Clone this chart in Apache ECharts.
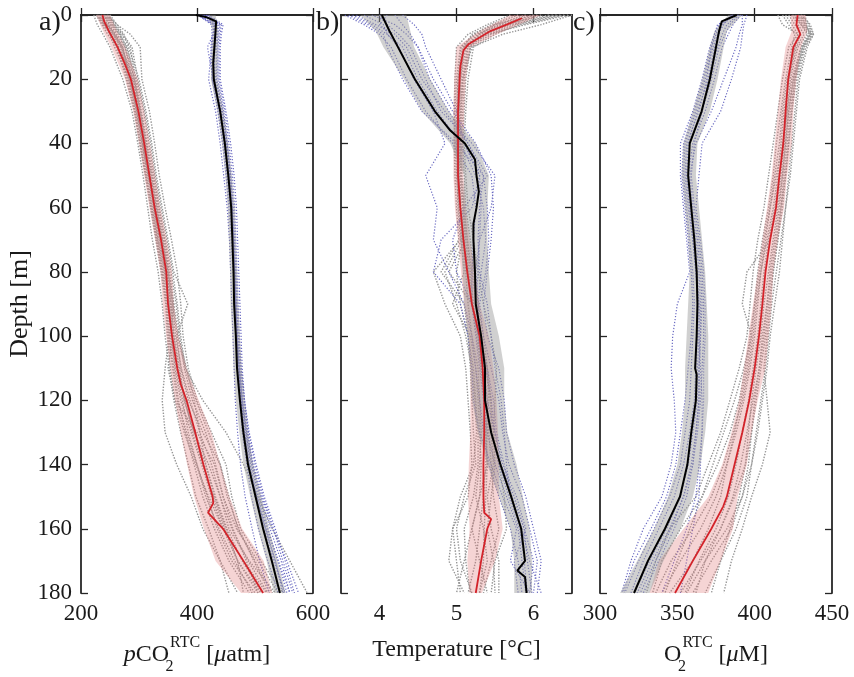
<!DOCTYPE html>
<html>
<head>
<meta charset="utf-8">
<script src="https://cdn.jsdelivr.net/npm/echarts@6/dist/echarts.min.js"></script>
<style>html,body{margin:0;padding:0;background:#fff}#c{width:854px;height:677px}</style>
</head>
<body>
<div id="c"></div>
<script>
// ---------------- depth grids ----------------
const depthProfile = [0,3,6,10,20,30,40,50,60,70,80,90,100,110,120,130,140,150,160,170,180];
const depthBand = [0,5,10,20,30,40,50,60,70,80,90,100,110,120,130,140,150,160,170,180];

// ---------------- panel a: pCO2 ----------------
const aRedDepth = [0,2,5,10,15,20,30,40,50,60,70,80,90,100,110,115,120,130,140,150,152,155,160,170,180];
const aRedMean  = [237,240,248,263,275,286,299,309,318,327,338,347,350,357,366,372,382,397,411,427,428,419,445,480,514];
const aBlkDepth = [0,0.6,2,5,10,15,20,30,40,50,60,70,80,90,100,110,120,130,140,150,160,170,180];
const aBlkMean  = [398,415,433,432,430,428,429,440,448,454,459,461,463,464,467,469,474,480,488,501,514,529,543];
const aPinkLo = [226,238,252,276,290,300,309,318,328,337,341,347,354,362,372,383,395,412,432,476];
const aPinkHi = [250,262,276,298,309,319,328,337,348,357,360,368,382,403,425,440,456,478,515,530];
const aGrayLo = [420,427,425,424,435,443,449,453,455,457,458,461,463,467,473,480,492,505,520,533];
const aGrayHi = [432,437,436,435,446,454,460,465,467,469,471,474,477,482,488,497,511,524,539,553];
const aGrayProf1  = [222,228,238,250,272,288,298,307,315,323,333,340,345,352,360,372,385,398,420,440,470];
const aGrayProf2  = [250,262,274,282,300,312,322,330,340,350,360,384,365,372,385,410,440,455,470,500,530];
const aGrayProf3  = [235,242,250,258,283,296,305,316,325,333,344,352,356,362,372,390,408,425,445,470,510];
const aGrayProf4  = [228,238,252,265,290,302,312,322,332,342,352,360,352,345,340,345,365,390,410,440,455];
const aGrayProf5  = [245,262,285,302,305,318,327,335,345,356,366,372,376,385,400,425,450,460,475,510,548];
const aGrayProf6  = [240,248,258,270,290,300,308,318,326,336,346,356,360,370,378,395,420,440,455,490,535];
const aGrayProf7  = [232,240,255,268,282,294,303,312,321,330,340,348,352,360,368,380,395,410,430,455,490];
const aGrayProf8  = [226,236,246,262,278,292,301,311,320,329,338,346,349,354,362,378,398,420,445,480,520];
const aGrayProf9  = [244,256,268,278,296,308,317,326,335,345,355,364,370,378,392,415,432,445,462,485,505];
const aGrayProf10 = [238,250,262,276,288,298,306,314,323,332,342,350,354,364,375,385,400,418,435,460,500];
const aGrayProf11 = [230,244,260,272,286,296,306,316,328,338,348,354,358,350,362,400,430,445,468,505,540];
const aGrayProf12 = [248,258,270,285,294,304,314,324,334,344,352,360,368,382,395,405,415,430,450,470,480];
const aGrayProf13 = [240,252,266,280,292,302,311,320,330,340,350,358,366,380,410,450,480,505,530,560,590];
const aGrayProf14 = [234,246,258,272,284,297,307,317,326,335,345,352,357,366,378,395,415,432,452,478,512];
const aGrayProf15 = [242,254,266,276,292,303,313,322,331,341,350,358,363,373,388,405,425,440,460,488,522];
const aGrayProf16 = [228,240,250,264,280,293,302,312,322,331,340,347,351,358,366,382,400,415,438,465,495];
const aGrayProf17 = [246,258,272,288,298,310,320,328,338,348,358,366,372,380,398,420,440,452,472,498,525];
const aGrayProf18 = [236,244,256,270,286,299,309,319,329,339,349,355,360,368,380,392,410,428,448,470,505];
const aBlueProf1  = [400,430,428,425,420,432,440,446,452,456,458,460,462,464,466,470,475,483,495,508,525];
const aBlueProf2  = [420,445,442,440,440,450,458,464,468,470,472,474,476,478,482,488,495,505,520,540,560];
const aBlueProf3  = [410,436,434,432,426,436,444,450,455,459,462,466,468,472,476,482,490,500,515,532,552];
const aBlueProf4  = [405,430,430,428,432,444,452,458,463,465,467,469,470,474,479,486,497,512,530,555,575];
const aBlueProf5  = [415,432,428,418,428,438,446,452,457,461,463,465,467,470,474,478,486,494,506,522,540];
const aBlueProf6  = [402,425,426,424,426,440,448,455,460,463,465,467,469,472,477,484,494,508,522,540,555];
const aBlueProf7  = [418,440,438,436,436,446,452,458,461,463,465,467,469,473,478,485,492,503,518,535,548];
const aBlueProf8  = [408,434,432,431,430,442,450,456,460,464,466,468,471,476,482,490,502,516,535,552,568];
const aBlueProf9  = [412,438,436,434,434,444,451,457,461,463,465,467,469,473,478,486,496,510,526,545,560];
const aBlueProf10 = [404,428,428,426,428,440,449,455,459,462,464,466,468,471,476,482,490,502,518,535,550];
const aBlueProf11 = [416,442,440,438,438,448,455,461,465,467,469,471,473,476,481,489,500,514,532,548,565];

// ---------------- panel b: temperature ----------------
const bRedDepth = [1,3,5,7,9,11,16,20,30,40,50,60,70,80,90,100,110,120,130,140,150,155,157,160,170,180];
const bRedMean  = [5.85,5.65,5.44,5.30,5.16,5.09,5.05,5.04,5.02,5.02,5.02,5.05,5.09,5.14,5.20,5.30,5.34,5.36,5.36,5.35,5.35,5.36,5.45,5.40,5.32,5.25];
const bBlkDepth = [0,5,10,20,30,36,40,45,50,55,60,65,70,75,80,90,100,110,120,130,140,150,160,170,173,175,180];
const bBlkMean  = [4.03,4.13,4.24,4.46,4.72,4.92,5.11,5.24,5.26,5.29,5.26,5.22,5.22,5.23,5.24,5.25,5.32,5.37,5.37,5.45,5.57,5.71,5.84,5.89,5.79,5.89,5.91];
const bPinkLo = [5.70,5.30,5.00,4.97,4.96,4.96,4.96,4.98,5.02,5.06,5.10,5.16,5.18,5.18,5.18,5.16,5.15,5.17,5.14,5.17];
const bPinkHi = [6.10,5.62,5.18,5.12,5.10,5.09,5.09,5.12,5.17,5.24,5.30,5.42,5.48,5.52,5.54,5.55,5.55,5.60,5.50,5.33];
const bGrayLo = [3.75,3.95,4.05,4.32,4.55,4.92,5.10,5.08,5.05,5.08,5.10,5.15,5.18,5.20,5.28,5.40,5.55,5.70,5.75,5.75];
const bGrayHi = [4.35,4.40,4.45,4.66,4.90,5.25,5.42,5.40,5.40,5.42,5.45,5.55,5.62,5.62,5.66,5.78,5.86,5.95,5.98,5.98];
const bGrayProf1  = [6.45,5.90,5.40,5.15,5.10,5.08,5.06,5.07,5.10,5.14,5.18,5.22,5.28,5.32,5.38,5.42,5.45,5.48,5.55,5.45,5.35];
const bGrayProf2  = [6.20,5.60,5.25,5.05,5.00,4.98,4.97,4.98,5.00,5.03,4.80,5.10,5.15,5.18,5.20,5.22,5.25,5.10,5.00,5.05,5.20];
const bGrayProf3  = [6.00,5.50,5.20,5.10,5.05,5.04,5.03,5.04,5.06,5.10,5.15,5.20,5.30,5.35,5.40,5.40,5.38,5.35,5.30,5.25,5.15];
const bGrayProf4  = [5.70,5.40,5.15,5.00,4.98,4.97,4.98,5.00,5.03,5.06,5.10,4.95,5.18,5.25,5.28,5.30,5.32,5.30,5.20,5.10,5.00];
const bGrayProf5  = [6.35,5.80,5.50,5.22,5.15,5.12,5.10,5.12,5.15,5.22,5.28,5.35,5.45,5.52,5.50,5.48,5.55,5.62,5.65,5.50,5.45];
const bGrayProf6  = [6.50,6.10,5.60,5.20,5.08,5.05,5.04,5.05,5.08,5.12,4.90,5.20,5.30,5.40,5.42,5.38,5.40,5.30,5.20,5.30,5.40];
const bGrayProf7  = [5.90,5.50,5.30,5.12,5.06,5.03,5.02,5.03,5.05,5.08,5.12,5.15,5.20,5.28,5.30,5.32,5.30,5.25,5.35,5.40,5.30];
const bGrayProf8  = [6.30,5.70,5.35,5.08,5.02,5.00,5.00,5.01,5.02,5.05,4.70,4.85,5.05,5.12,5.15,5.18,5.20,5.15,4.95,4.90,5.10];
const bGrayProf9  = [6.10,5.65,5.30,5.18,5.12,5.10,5.08,5.10,5.12,5.18,5.22,5.28,5.35,5.40,5.45,5.45,5.48,5.40,5.45,5.55,5.55];
const bGrayProf10 = [6.40,5.85,5.45,5.18,5.08,5.06,5.05,5.06,5.08,5.12,5.16,5.20,5.26,5.32,5.36,5.38,5.40,5.38,5.36,5.35,5.30];
const bGrayProf11 = [5.80,5.45,5.22,5.06,5.02,5.01,5.00,5.02,5.04,5.08,5.00,5.05,5.15,5.22,5.25,5.28,5.28,5.22,5.10,5.12,5.18];
const bGrayProf12 = [6.25,5.75,5.40,5.14,5.08,5.06,5.05,5.06,5.09,5.14,5.20,5.26,5.32,5.38,5.44,5.48,5.50,5.45,5.40,5.48,5.50];
const bGrayProf13 = [6.05,5.55,5.28,5.10,5.04,5.02,5.01,5.02,5.04,5.07,4.85,5.00,5.12,5.20,5.24,5.26,5.22,5.05,4.95,5.00,5.05];
const bBlueProf1  = [3.55,3.80,4.00,4.15,4.35,4.60,4.95,5.20,5.25,5.22,5.20,5.20,5.25,5.30,5.35,5.40,5.50,5.65,5.80,5.85,5.90];
const bBlueProf2  = [3.70,3.95,4.20,4.35,4.55,4.85,5.15,5.35,5.40,5.42,5.38,5.30,5.35,5.45,5.55,5.60,5.68,5.85,5.95,6.05,6.00];
const bBlueProf3  = [4.10,4.00,4.15,4.25,4.45,4.70,4.85,4.60,4.75,4.70,4.90,5.10,5.20,5.25,5.30,5.35,5.42,5.55,5.70,5.80,5.85];
const bBlueProf4  = [3.90,4.20,4.35,4.50,4.70,4.95,5.25,5.45,5.48,5.45,5.40,5.35,5.40,5.55,5.62,5.65,5.75,5.90,6.00,6.10,6.05];
const bBlueProf5  = [4.30,4.45,4.55,4.60,4.80,5.00,5.10,5.30,5.20,4.80,4.70,5.05,5.15,5.20,5.22,5.30,5.45,5.60,5.78,5.70,5.95];
const bBlueProf6  = [3.60,3.85,4.05,4.10,4.30,4.55,5.00,5.35,5.30,5.28,5.30,5.40,5.45,5.50,5.58,5.62,5.65,5.70,5.85,5.95,6.10];
const bBlueProf7  = [4.00,4.10,4.25,4.40,4.60,4.80,5.20,5.50,5.45,5.30,5.25,5.28,5.30,5.35,5.40,5.50,5.60,5.78,5.90,5.75,5.80];
const bBlueProf8  = [3.80,4.05,4.10,4.30,4.50,4.75,5.05,5.25,5.35,5.38,5.32,5.28,5.30,5.40,5.48,5.52,5.62,5.72,5.88,6.00,5.95];
const bBlueProf9  = [3.65,3.90,4.10,4.25,4.45,4.70,5.10,5.30,5.32,5.30,5.28,5.25,5.30,5.38,5.45,5.50,5.58,5.75,5.88,5.92,5.98];
const bBlueProf10 = [4.20,4.30,4.40,4.50,4.65,4.90,5.15,5.40,5.10,4.95,5.00,5.20,5.28,5.33,5.38,5.45,5.55,5.68,5.82,5.88,5.92];

// ---------------- panel c: O2 ----------------
const cRedDepth = [0,3,6,10,20,30,40,50,60,70,80,90,100,110,120,130,140,150,153,160,170,180];
const cRedMean  = [427.8,427.0,429.5,425,421.7,420,418.5,416,413.8,410,407,405,402.8,400,396.5,392,387,382,379.7,372,360,348.5];
const cBlkDepth = [0,2,5,10,20,30,40,50,60,70,80,90,100,110,112,120,130,140,150,160,170,180];
const cBlkMean  = [388.4,378.7,377,375,371,365.7,358,357,359,361,362.5,363,362.5,361.5,362.5,362,359,356.5,351.7,342,331,322];
const cPinkLo = [423,424,420,417,415,413,411,408,405,402,399,396,393,390,385,379,370,354,338,332];
const cPinkHi = [433,434,430,427,425,424,421,419,415,412,411,409,407,402,398,395,389,386,378,370];
const cGrayLo = [383,374,371,366,360,354,353,355,357,358,357,356,355,355,353,350,344,335,324,313];
const cGrayHi = [392,382,380,376,371,363,362,364,366,368,369,370,370,370,368,365,360,352,341,332];
const cGrayProf1  = [415,418,428,426,422,420,419,417,414,410,395,392,398,395,391,387,382,378,370,360,345];
const cGrayProf2  = [432,435,438,433,428,426,424,422,420,417,414,411,409,407,404,401,398,395,388,378,368];
const cGrayProf3  = [425,430,435,430,424,421,418,414,410,406,403,400,397,394,390,384,376,366,352,340,334];
const cGrayProf4  = [430,433,436,430,425,422,420,418,416,413,410,408,405,403,400,398,396,392,385,372,360];
const cGrayProf5  = [420,424,428,422,418,415,412,409,406,402,399,397,395,390,384,378,370,362,345,336,330];
const cGrayProf6  = [428,432,437,432,426,423,421,419,417,415,412,410,408,406,408,410,405,398,392,385,380];
const cGrayProf7  = [426,430,434,428,423,421,419,416,413,409,406,404,402,399,396,392,388,383,375,364,355];
const cGrayProf8  = [430,436,438,434,429,427,425,423,420,418,416,413,410,408,405,402,398,392,382,368,356];
const cGrayProf9  = [418,422,426,424,420,417,414,412,409,405,402,400,398,393,387,380,373,366,358,350,342];
const cGrayProf10 = [427,431,436,431,425,422,420,418,415,412,409,406,404,401,398,396,394,390,384,378,372];
const cGrayProf11 = [424,428,432,427,422,419,417,415,412,408,404,402,400,397,393,388,382,375,365,352,340];
const cGrayProf12 = [431,434,437,432,427,424,422,420,418,415,412,409,407,404,401,398,394,387,378,365,352];
const cGrayProf13 = [422,426,430,426,421,418,416,413,410,407,404,401,399,396,392,386,380,372,360,346,336];
const cGrayProf14 = [429,433,436,431,426,424,422,420,417,414,411,408,406,403,399,395,391,386,378,368,362];
const cBlueProf1  = [392,392,390,388,380,372,362,358,360,363,365,366,365,364,364,362,360,356,348,338,328];
const cBlueProf2  = [385,380,376,373,368,362,355,354,356,358,360,361,360,359,358,355,352,345,335,325,316];
const cBlueProf3  = [395,393,392,391,385,378,366,364,362,365,367,368,368,367,367,366,364,362,356,348,340];
const cBlueProf4  = [388,376,374,371,366,360,352,352,354,356,358,350,347,346,348,349,346,340,328,320,314];
const cBlueProf5  = [386,378,375,372,369,364,356,355,357,360,362,364,364,365,366,366,365,364,360,356,352];
const cBlueProf6  = [390,384,381,377,372,366,358,356,358,361,363,364,364,363,363,360,357,352,343,332,322];
const cBlueProf7  = [389,382,379,376,370,363,357,356,358,360,362,363,363,362,361,358,354,348,338,328,320];
const cBlueProf8  = [387,379,377,374,370,366,361,359,361,364,366,367,367,366,365,363,360,354,345,334,324];
const cBlueProf9  = [391,386,383,379,374,368,360,357,359,362,364,365,365,364,364,362,359,354,346,336,326];
const cBlueProf10 = [386,377,374,372,367,361,354,353,355,357,359,360,359,357,355,352,349,343,333,322,315];

// ---------------- axes ----------------
const xMinA = 200, xMaxA = 600, xIntA = 200;
const xMinB = 3.5, xMaxB = 6.5, xTicksB = [4,5,6];
const xMinC = 300, xMaxC = 450, xIntC = 50;

// ---------------- styles ----------------
const FONT = 'Liberation Serif';
const AXC = '#262626';
const TXT = '#1a1a1a';
const RED = '#d3232a';
const GRAYDOT = '#969696';
const BLUEDOT = '#6a6ac2';
const PINK = 'rgba(224,120,120,0.32)';
const GRAYBAND = 'rgba(150,150,150,0.45)';

const grids = [
  {left: 81, top: 15, width: 232, height: 578, outerBoundsMode: 'none', containLabel: false},
  {left: 341, top: 15, width: 231, height: 578, outerBoundsMode: 'none', containLabel: false},
  {left: 600, top: 15, width: 232, height: 578, outerBoundsMode: 'none', containLabel: false}
];

function pairs(vals, depths) { return vals.map((v, i) => [v, depths[i]]); }

function lineS(g, vals, depths, color, width, type, z) {
  return {
    type: 'line', xAxisIndex: 2*g, yAxisIndex: 2*g,
    data: pairs(vals, depths), showSymbol: false, symbol: 'none',
    lineStyle: {color: color, width: width, type: type || 'solid'},
    z: z, silent: true, animation: false
  };
}

function bandS(g, lo, hi, depths, color, z) {
  return {
    type: 'custom', xAxisIndex: 2*g, yAxisIndex: 2*g,
    data: depths.map((d, i) => [lo[i], hi[i], d]),
    encode: {x: [0, 1], y: 2},
    renderItem: function (params, api) {
      if (params.dataIndex !== 0) return;
      const pts = [];
      for (let i = 0; i < depths.length; i++) pts.push(api.coord([lo[i], depths[i]]));
      for (let i = depths.length - 1; i >= 0; i--) pts.push(api.coord([hi[i], depths[i]]));
      return {type: 'polygon', shape: {points: pts}, style: {fill: color}};
    },
    z: z, silent: true, animation: false
  };
}

function tickStyle() { return {show: true, inside: true, length: 7, lineStyle: {color: AXC, width: 1.3}}; }
function axLine() { return {show: true, lineStyle: {color: AXC, width: 1.8}}; }

const richName = {
  i: {fontFamily: FONT, fontStyle: 'italic', fontSize: 24, color: TXT, lineHeight: 40},
  sub: {fontFamily: FONT, fontSize: 16, color: TXT, lineHeight: 16, verticalAlign: 'bottom', width: 1},
  sup: {fontFamily: FONT, fontSize: 16, color: TXT, lineHeight: 16, verticalAlign: 'top'}
};

function xAxes(g, min, max, interval, custom, name, gap) {
  const bottom = {
    type: 'value', gridIndex: g, position: 'bottom', min: min, max: max,
    axisLine: axLine(), axisTick: tickStyle(),
    axisLabel: {show: true, fontFamily: FONT, fontSize: 23, color: TXT, margin: 9},
    splitLine: {show: false},
    name: name, nameLocation: 'middle', nameGap: gap,
    nameTextStyle: {fontFamily: FONT, fontSize: 24, color: TXT, lineHeight: 40, rich: richName}
  };
  const top = {
    type: 'value', gridIndex: g, position: 'top', min: min, max: max,
    axisLine: axLine(), axisTick: tickStyle(),
    axisLabel: {show: false}, splitLine: {show: false}
  };
  if (custom) {
    bottom.axisTick.customValues = custom; bottom.axisLabel.customValues = custom;
    top.axisTick.customValues = custom;
  } else {
    bottom.interval = interval; top.interval = interval;
  }
  return [bottom, top];
}

function yAxes(g, showLabel) {
  const left = {
    type: 'value', gridIndex: g, position: 'left', inverse: true, min: 0, max: 180, interval: 20,
    axisLine: axLine(), axisTick: tickStyle(),
    axisLabel: {show: showLabel, fontFamily: FONT, fontSize: 23, color: TXT, margin: 9},
    splitLine: {show: false}
  };
  if (showLabel) {
    left.name = 'Depth [m]'; left.nameLocation = 'middle'; left.nameGap = 46;
    left.nameTextStyle = {fontFamily: FONT, fontSize: 26, color: TXT};
  }
  const right = {
    type: 'value', gridIndex: g, position: 'right', inverse: true, min: 0, max: 180, interval: 20,
    axisLine: axLine(), axisTick: tickStyle(), axisLabel: {show: false}, splitLine: {show: false}
  };
  return [left, right];
}

const xAxis = [].concat(
  xAxes(0, xMinA, xMaxA, xIntA, null, '{i|p}CO{sub|2}{sup|RTC} [{i|\u03bc}atm]', 42),
  xAxes(1, xMinB, xMaxB, null, xTicksB, 'Temperature [\u00b0C]', 30),
  xAxes(2, xMinC, xMaxC, xIntC, null, 'O{sub|2}{sup|RTC} [{i|\u03bc}M]', 42)
);
const yAxis = [].concat(yAxes(0, true), yAxes(1, false), yAxes(2, false));

const series = [];
function addPanel(g, grayProfs, blueProfs, pinkLo, pinkHi, grayLo, grayHi, redMean, redDepth, blkMean, blkDepth) {
  grayProfs.forEach(p => series.push(lineS(g, p, depthProfile, GRAYDOT, 1.4, [1.4, 1.5], 1)));
  blueProfs.forEach(p => series.push(lineS(g, p, depthProfile, BLUEDOT, 1.2, [1.2, 1.8], 1)));
  series.push(bandS(g, pinkLo, pinkHi, depthBand, PINK, 2));
  series.push(bandS(g, grayLo, grayHi, depthBand, GRAYBAND, 2));
  series.push(lineS(g, redMean, redDepth, RED, 1.8, 'solid', 4));
  series.push(lineS(g, blkMean, blkDepth, '#000', 2, 'solid', 4));
}
addPanel(0,
  [aGrayProf1, aGrayProf2, aGrayProf3, aGrayProf4, aGrayProf5, aGrayProf6, aGrayProf7, aGrayProf8, aGrayProf9,
   aGrayProf10, aGrayProf11, aGrayProf12, aGrayProf13, aGrayProf14, aGrayProf15, aGrayProf16, aGrayProf17, aGrayProf18],
  [aBlueProf1, aBlueProf2, aBlueProf3, aBlueProf4, aBlueProf5, aBlueProf6, aBlueProf7, aBlueProf8,
   aBlueProf9, aBlueProf10, aBlueProf11],
  aPinkLo, aPinkHi, aGrayLo, aGrayHi, aRedMean, aRedDepth, aBlkMean, aBlkDepth);
addPanel(1,
  [bGrayProf1, bGrayProf2, bGrayProf3, bGrayProf4, bGrayProf5, bGrayProf6, bGrayProf7, bGrayProf8, bGrayProf9,
   bGrayProf10, bGrayProf11, bGrayProf12, bGrayProf13],
  [bBlueProf1, bBlueProf2, bBlueProf3, bBlueProf4, bBlueProf5, bBlueProf6, bBlueProf7, bBlueProf8,
   bBlueProf9, bBlueProf10],
  bPinkLo, bPinkHi, bGrayLo, bGrayHi, bRedMean, bRedDepth, bBlkMean, bBlkDepth);
addPanel(2,
  [cGrayProf1, cGrayProf2, cGrayProf3, cGrayProf4, cGrayProf5, cGrayProf6, cGrayProf7, cGrayProf8, cGrayProf9,
   cGrayProf10, cGrayProf11, cGrayProf12, cGrayProf13, cGrayProf14],
  [cBlueProf1, cBlueProf2, cBlueProf3, cBlueProf4, cBlueProf5, cBlueProf6, cBlueProf7, cBlueProf8,
   cBlueProf9, cBlueProf10],
  cPinkLo, cPinkHi, cGrayLo, cGrayHi, cRedMean, cRedDepth, cBlkMean, cBlkDepth);

const panelLabels = ['a)', 'b)', 'c)'];
const panelLabelX = [39, 316, 573];

const chart = echarts.init(document.getElementById('c'), null, {renderer: 'canvas'});
chart.setOption({
  backgroundColor: '#ffffff',
  animation: false,
  grid: grids,
  xAxis: xAxis,
  yAxis: yAxis,
  series: series,
  graphic: panelLabels.map((t, i) => ({
    type: 'text', x: panelLabelX[i], y: 23, z: 10,
    style: {text: t, fontFamily: FONT, fontSize: 28, fill: TXT, verticalAlign: 'middle', align: 'left'}
  }))
});
</script>
</body>
</html>
